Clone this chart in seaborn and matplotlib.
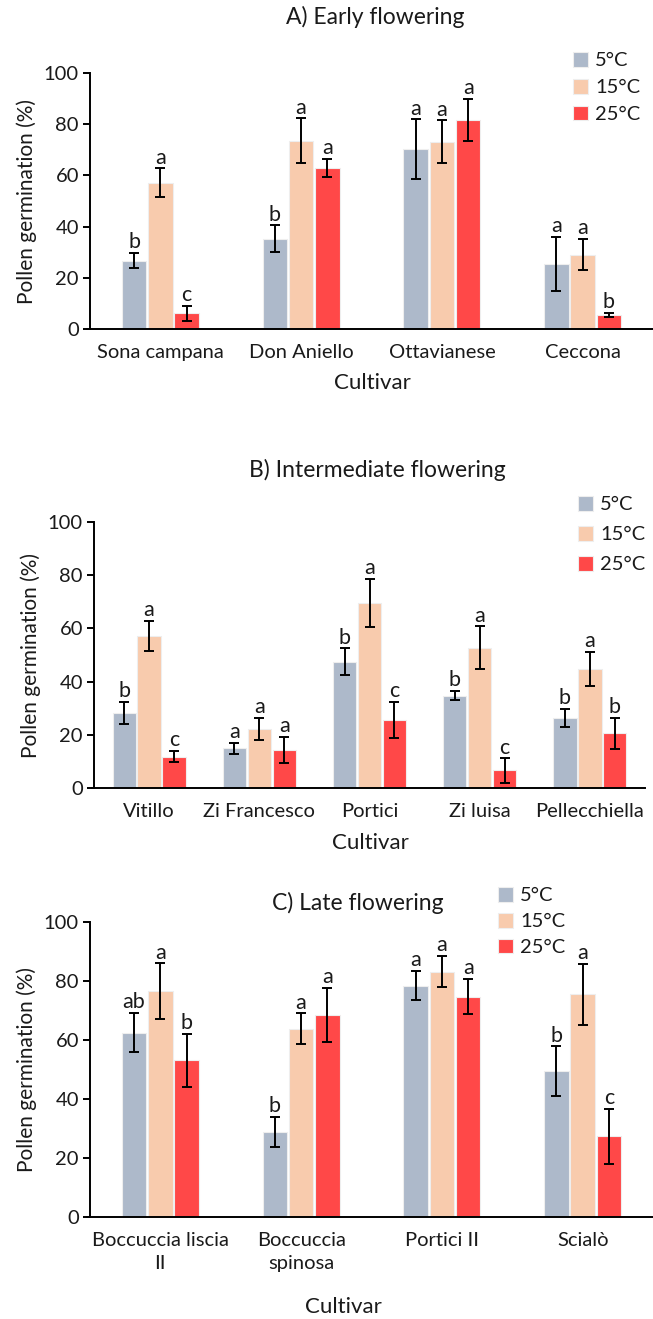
import matplotlib
matplotlib.use("Agg")
import matplotlib.pyplot as plt
import seaborn as sns
import pandas as pd
import numpy as np

# ---------------- data ----------------
temps = ["5°C", "15°C", "25°C"]

a_title = "A) Early flowering"
a_cultivars = ["Sona campana", "Don Aniello", "Ottavianese", "Ceccona"]
a_5 = [26.7, 35.2, 70.2, 25.5]
a_5_err = [3.0, 5.3, 11.7, 10.5]
a_15 = [57.2, 73.5, 73.1, 29.1]
a_15_err = [5.6, 8.8, 8.4, 6.0]
a_25 = [6.2, 62.9, 81.7, 5.6]
a_25_err = [2.9, 3.5, 8.2, 0.75]
a_let_5 = ["b", "b", "a", "a"]
a_let_15 = ["a", "a", "a", "a"]
a_let_25 = ["c", "a", "a", "b"]

b_title = "B) Intermediate flowering"
b_cultivars = ["Vitillo", "Zi Francesco", "Portici", "Zi luisa", "Pellecchiella"]
b_5 = [28.3, 14.9, 47.4, 34.7, 26.4]
b_5_err = [4.2, 2.2, 5.1, 1.7, 3.3]
b_15 = [57.2, 22.2, 69.7, 52.7, 44.8]
b_15_err = [5.6, 4.3, 9.0, 8.1, 6.5]
b_25 = [11.8, 14.2, 25.7, 6.6, 20.5]
b_25_err = [2.1, 4.9, 6.8, 4.6, 6.0]
b_let_5 = ["b", "a", "b", "b", "b"]
b_let_15 = ["a", "a", "a", "a", "a"]
b_let_25 = ["c", "a", "c", "c", "b"]

c_title = "C) Late flowering"
c_cultivars = ["Boccuccia liscia\nII", "Boccuccia\nspinosa", "Portici II", "Scialò"]
c_5 = [62.5, 28.8, 78.4, 49.4]
c_5_err = [6.6, 5.2, 5.0, 8.4]
c_15 = [76.6, 63.8, 83.2, 75.5]
c_15_err = [9.4, 5.2, 5.4, 10.3]
c_25 = [53.1, 68.4, 74.7, 27.3]
c_25_err = [9.1, 9.2, 6.0, 9.4]
c_let_5 = ["ab", "b", "a", "b"]
c_let_15 = ["a", "a", "a", "a"]
c_let_25 = ["b", "a", "a", "c"]

y_ticks = [0, 20, 40, 60, 80, 100]
y_label = "Pollen germination (%)"
x_label = "Cultivar"

# ---------------- style ----------------
sns.set_theme(style="white")
plt.rcParams["font.family"] = ["Lato", "DejaVu Sans"]
TXT = "#1a1a1a"
palette = {"5°C": "#ADB9CA", "15°C": "#F8CBAD", "25°C": "#FF4848"}

W, H = 653, 1319
fig = plt.figure(figsize=(W / 100, H / 100), dpi=100)


def px_axes(left, right, top, bottom):
    return fig.add_axes([left / W, 1 - bottom / H, (right - left) / W, (bottom - top) / H])


def panel(ax, cultivars, vals, errs, lets, width, title, title_xy, xlab_xy, leg_xy, leg_space):
    rows = []
    for t, v in zip(temps, vals):
        for c, val in zip(cultivars, v):
            rows.append({"Cultivar": c, "Temp": t, "value": val})
    df = pd.DataFrame(rows)
    sns.barplot(data=df, x="Cultivar", y="value", hue="Temp", hue_order=temps,
                order=cultivars, palette=palette, saturation=1, width=width, gap=0.07,
                errorbar=None, edgecolor="#eeeeee", linewidth=0.8, ax=ax)
    for cont, v, e, l in zip(ax.containers, vals, errs, lets):
        xs = [b.get_x() + b.get_width() / 2 for b in cont]
        ax.errorbar(xs, v, yerr=e, fmt="none", ecolor="black", elinewidth=1.4,
                    capsize=3.8, capthick=1.4, zorder=5)
        for x, vv, ee, ll in zip(xs, v, e, l):
            ax.annotate(ll, (x, vv + ee), xytext=(0, 0.5), textcoords="offset points",
                        ha="center", va="bottom", fontsize=15.5, color=TXT)
    n = len(cultivars)
    ax.set_xlim(-0.5, n - 0.5)
    ax.set_ylim(0, 100)
    ax.set_yticks(y_ticks)
    ax.set_xticks(range(n))
    ax.set_xticks(np.arange(-0.5, n, 1.0), minor=True)
    ax.set_xticklabels(cultivars, fontsize=14.5, color=TXT, linespacing=1.4)
    ax.tick_params(axis="x", which="major", length=0, pad=11)
    ax.tick_params(axis="x", which="minor", length=6, width=1.4, direction="out", color="black")
    ax.tick_params(axis="y", length=5, width=1.4, direction="out", color="black",
                   labelsize=14.5, labelcolor=TXT, left=True, pad=3)
    ax.set_xlabel("")
    ax.set_ylabel(y_label, fontsize=15, color=TXT, labelpad=5)
    for s in ["top", "right"]:
        ax.spines[s].set_visible(False)
    for s in ["left", "bottom"]:
        ax.spines[s].set_color("black")
        ax.spines[s].set_linewidth(1.4)
    ax.spines["bottom"].set_bounds(-0.5 - 0.02, n - 0.5)
    ax.patch.set_alpha(0)
    fig.text(title_xy[0] / W, 1 - title_xy[1] / H, title, ha="center", va="center",
             fontsize=16.5, color=TXT)
    fig.text(xlab_xy[0] / W, 1 - xlab_xy[1] / H, x_label, ha="center", va="center",
             fontsize=16, color=TXT)
    handles, labels = ax.get_legend_handles_labels()
    ax.legend(handles, labels, loc="upper left",
              bbox_to_anchor=(leg_xy[0] / W, 1 - leg_xy[1] / H),
              bbox_transform=fig.transFigure, frameon=False, fontsize=14.5,
              handlelength=0.75, handleheight=0.75, handletextpad=0.35,
              labelspacing=leg_space, borderpad=0, borderaxespad=0, labelcolor=TXT)


axA = px_axes(90, 653, 73, 329)
panel(axA, a_cultivars, [a_5, a_15, a_25], [a_5_err, a_15_err, a_25_err],
      [a_let_5, a_let_15, a_let_25], 0.56, a_title, (375, 17), (372, 383), (573, 52), 0.47)

axB = px_axes(94, 645, 522, 788)
panel(axB, b_cultivars, [b_5, b_15, b_25], [b_5_err, b_15_err, b_25_err],
      [b_let_5, b_let_15, b_let_25], 0.68, b_title, (377, 470), (370, 843), (578, 496), 0.62)

axC = px_axes(90, 653, 922, 1217)
panel(axC, c_cultivars, [c_5, c_15, c_25], [c_5_err, c_15_err, c_25_err],
      [c_let_5, c_let_15, c_let_25], 0.56, c_title, (358, 903), (343, 1307), (498, 887), 0.42)

fig.savefig("out.png", dpi=100)
